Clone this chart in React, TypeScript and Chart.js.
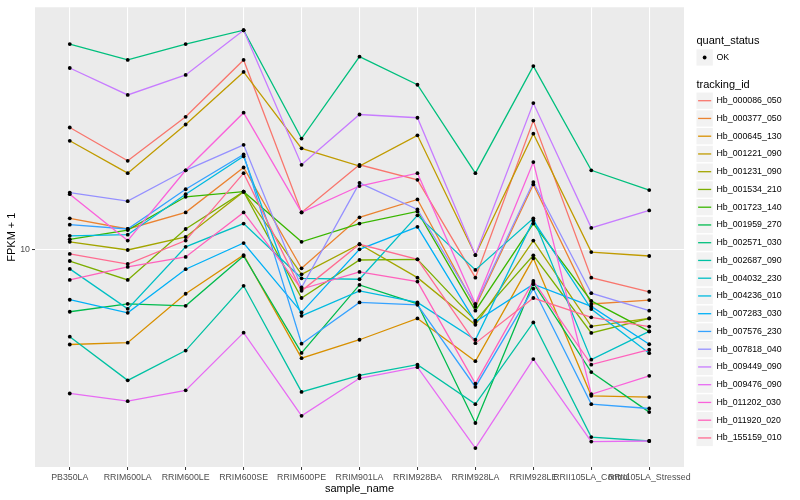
import React, { useEffect, useRef } from "react";
import { Chart, registerables } from "chart.js";

Chart.register(...registerables);

const FONT = '"Liberation Sans", Arial, Helvetica, sans-serif';

const categories = [
  "PB350LA", "RRIM600LA", "RRIM600LE", "RRIM600SE", "RRIM600PE", "RRIM901LA",
  "RRIM928BA", "RRIM928LA", "RRIM928LE", "RRII105LA_Control", "RRII105LA_Stressed",
];

const trackingIds = [
  "Hb_000086_050", "Hb_000377_050", "Hb_000645_130", "Hb_001221_090", "Hb_001231_090",
  "Hb_001534_210", "Hb_001723_140", "Hb_001959_270", "Hb_002571_030", "Hb_002687_090",
  "Hb_004032_230", "Hb_004236_010", "Hb_007283_030", "Hb_007576_230", "Hb_007818_040",
  "Hb_009449_090", "Hb_009476_090", "Hb_011202_030", "Hb_011920_020", "Hb_155159_010",
];

const seriesColors = [
  "#F8766D", "#EA8331", "#D89000", "#C09B00", "#A3A500",
  "#7CAE00", "#39B600", "#00BB4E", "#00BF7D", "#00C1A3",
  "#00BFC4", "#00BAE0", "#00B0F6", "#35A2FF", "#9590FF",
  "#C77CFF", "#E76BF3", "#FA62DB", "#FF62BC", "#FF6C91",
];

const quantStatus = ["OK"];
const yTickValues = [10];
const yLimits = [1.866, 64.7];

// FPKM + 1, one value per sample in category order
const hb000086_050 = [25.6, 19.8, 27.8, 43.1, 13.3, 19.2, 17.1, 8.04, 27.0, 8.04, 7.21];
const hb000377_050 = [12.7, 11.7, 13.3, 18.8, 8.64, 12.8, 14.7, 6.42, 16.5, 6.56, 6.76];
const hb000645_130 = [4.80, 4.87, 7.10, 9.57, 4.32, 4.98, 5.87, 4.22, 9.33, 3.23, 3.20];
const hb001221_090 = [23.1, 18.0, 26.2, 39.3, 21.8, 19.0, 24.1, 9.57, 24.4, 9.79, 9.50];
const hb001231_090 = [10.6, 9.95, 11.0, 15.6, 8.25, 10.4, 8.04, 5.59, 10.7, 5.52, 5.87];
const hb001534_210 = [9.14, 7.90, 11.7, 15.6, 6.87, 9.21, 9.26, 5.77, 9.55, 5.25, 5.87];
const hb001723_140 = [10.8, 11.6, 15.0, 15.6, 10.6, 12.2, 13.4, 6.23, 12.2, 6.72, 5.31];
const hb001959_270 = [6.18, 6.57, 6.47, 9.50, 4.50, 7.60, 6.57, 2.62, 7.72, 3.88, 2.85];
const hb002571_030 = [48.7, 43.1, 48.7, 54.2, 23.5, 44.2, 35.6, 18.0, 41.1, 18.4, 15.8];
const hb002687_090 = [5.10, 3.64, 4.58, 7.55, 3.33, 3.78, 4.11, 3.03, 5.69, 2.35, 2.28];
const hb004032_230 = [8.60, 6.32, 10.2, 12.2, 8.00, 7.94, 13.0, 8.53, 12.7, 4.27, 5.31];
const hb004236_010 = [11.1, 11.2, 15.3, 20.5, 5.99, 7.26, 6.64, 4.98, 12.5, 6.31, 4.49];
const hb007283_030 = [6.78, 6.13, 8.58, 10.5, 6.15, 10.0, 11.9, 5.72, 7.64, 6.44, 4.81];
const hb007576_230 = [12.1, 11.7, 15.9, 20.8, 4.83, 6.64, 6.52, 3.46, 7.39, 3.03, 2.93];
const hb007818_040 = [15.5, 14.5, 18.4, 22.4, 7.45, 16.7, 13.6, 6.52, 16.8, 7.13, 6.23];
const hb009449_090 = [40.5, 32.9, 38.4, 54.2, 19.2, 28.3, 27.6, 9.57, 30.9, 11.8, 13.5];
const hb009476_090 = [3.29, 3.10, 3.37, 5.26, 2.77, 3.70, 4.03, 2.16, 4.29, 2.27, 2.28];
const hb011202_030 = [15.3, 10.7, 18.4, 28.7, 13.3, 16.3, 18.0, 6.57, 19.6, 3.27, 3.77];
const hb011920_020 = [7.90, 8.73, 9.43, 13.3, 7.36, 8.40, 7.80, 3.55, 7.84, 4.11, 4.61];
const hb155159_010 = [9.65, 8.93, 10.7, 18.0, 7.26, 10.4, 9.26, 4.85, 6.87, 5.92, 5.51];

const seriesValues = [
  hb000086_050, hb000377_050, hb000645_130, hb001221_090, hb001231_090,
  hb001534_210, hb001723_140, hb001959_270, hb002571_030, hb002687_090,
  hb004032_230, hb004236_010, hb007283_030, hb007576_230, hb007818_040,
  hb009449_090, hb009476_090, hb011202_030, hb011920_020, hb155159_010,
];

export default function App() {
  const ref = useRef<HTMLCanvasElement>(null);

  useEffect(() => {
    document.body.style.margin = "0";
    const canvas = ref.current;
    if (!canvas) return;

    const panelBg = {
      id: "panelBg",
      beforeDraw(chart: any) {
        const { ctx, chartArea } = chart;
        ctx.save();
        ctx.fillStyle = "#EBEBEB";
        ctx.fillRect(chartArea.left, chartArea.top, chartArea.right - chartArea.left, chartArea.bottom - chartArea.top);
        ctx.restore();
      },
    };

    const ggLegend = {
      id: "ggLegend",
      afterDraw(chart: any) {
        const ctx = chart.ctx;
        const x0 = 696.5;
        ctx.save();
        ctx.textBaseline = "middle";
        ctx.textAlign = "left";
        ctx.fillStyle = "#000000";
        ctx.font = `11px ${FONT}`;
        ctx.fillText("quant_status", x0, 41);
        ctx.fillStyle = "#F2F2F2";
        ctx.fillRect(x0, 49.3, 16.3, 16.3);
        ctx.fillStyle = "#000000";
        ctx.beginPath();
        ctx.arc(x0 + 8.15, 57.5, 1.9, 0, Math.PI * 2);
        ctx.fill();
        ctx.font = `8.8px ${FONT}`;
        ctx.fillText(quantStatus[0], 716.5, 57.5);
        ctx.font = `11px ${FONT}`;
        ctx.fillText("tracking_id", x0, 84.5);
        ctx.font = `8.8px ${FONT}`;
        trackingIds.forEach((id, i) => {
          const cy = 100.7 + i * 17.75;
          ctx.fillStyle = "#F2F2F2";
          ctx.fillRect(x0, cy - 8.15, 16.3, 16.3);
          ctx.strokeStyle = seriesColors[i];
          ctx.lineWidth = 1.3;
          ctx.beginPath();
          ctx.moveTo(x0 + 1.6, cy);
          ctx.lineTo(x0 + 14.7, cy);
          ctx.stroke();
          ctx.fillStyle = "#000000";
          ctx.fillText(id, 716.5, cy);
        });
        ctx.restore();
      },
    };

    const lineSets = seriesValues.map((vals, i) => ({
      type: "line" as const,
      label: trackingIds[i],
      data: vals.map((v, j) => ({ x: j, y: v })),
      borderColor: seriesColors[i],
      backgroundColor: seriesColors[i],
      borderWidth: 1.3,
      pointRadius: 0,
      fill: false,
      tension: 0,
      order: 100 - i,
    }));

    const pointSet = {
      type: "scatter" as const,
      label: quantStatus[0],
      data: seriesValues.flatMap((vals) => vals.map((v, j) => ({ x: j, y: v }))),
      pointRadius: 1.9,
      pointBackgroundColor: "#000000",
      pointBorderWidth: 0,
      showLine: false,
      order: 0,
    };

    const chart = new Chart(canvas, {
      type: "line",
      data: { datasets: [pointSet as any, ...lineSets] },
      options: {
        responsive: false,
        animation: false,
        events: [],
        devicePixelRatio: 1,
        layout: { padding: { top: 5, right: 116, left: 0, bottom: 0 } },
        plugins: { legend: { display: false }, tooltip: { enabled: false } },
        scales: {
          x: {
            type: "linear",
            min: -0.6,
            max: categories.length - 1 + 0.6,
            afterBuildTicks: (scale: any) => {
              scale.ticks = categories.map((_, i) => ({ value: i }));
            },
            afterFit: (scale: any) => {
              scale.height = 33;
            },
            ticks: {
              autoSkip: false,
              maxRotation: 0,
              minRotation: 0,
              padding: 2,
              color: "#4D4D4D",
              font: { family: FONT, size: 8.8 },
              callback: (v: any) => categories[Math.round(Number(v))] ?? "",
            },
            grid: {
              color: "#FFFFFF",
              lineWidth: 1.07,
              drawTicks: true,
              tickLength: 3,
              tickColor: "#333333",
              tickWidth: 1,
            },
            border: { display: false },
            title: {
              display: true,
              text: "sample_name",
              color: "#000000",
              font: { family: FONT, size: 11 },
              padding: { top: 0, bottom: 4 },
            },
          },
          y: {
            type: "logarithmic",
            min: yLimits[0],
            max: yLimits[1],
            bounds: "data",
            afterBuildTicks: (scale: any) => {
              scale.ticks = yTickValues.map((v) => ({ value: v }));
            },
            afterFit: (scale: any) => {
              scale.width = 35;
            },
            ticks: {
              padding: 2,
              color: "#4D4D4D",
              font: { family: FONT, size: 8.8 },
              callback: (v: any) => String(v),
            },
            grid: {
              color: "#FFFFFF",
              lineWidth: 1.07,
              drawTicks: true,
              tickLength: 3,
              tickColor: "#333333",
              tickWidth: 1,
            },
            border: { display: false },
            title: {
              display: true,
              text: "FPKM + 1",
              color: "#000000",
              font: { family: FONT, size: 11 },
              padding: { top: 5.5, bottom: 0 },
            },
          },
        },
      },
      plugins: [panelBg, ggLegend],
    } as any);

    return () => chart.destroy();
  }, []);

  return (
    <div style={{ width: 800, height: 500 }}>
      <canvas ref={ref} width={800} height={500} style={{ display: "block" }} />
    </div>
  );
}
